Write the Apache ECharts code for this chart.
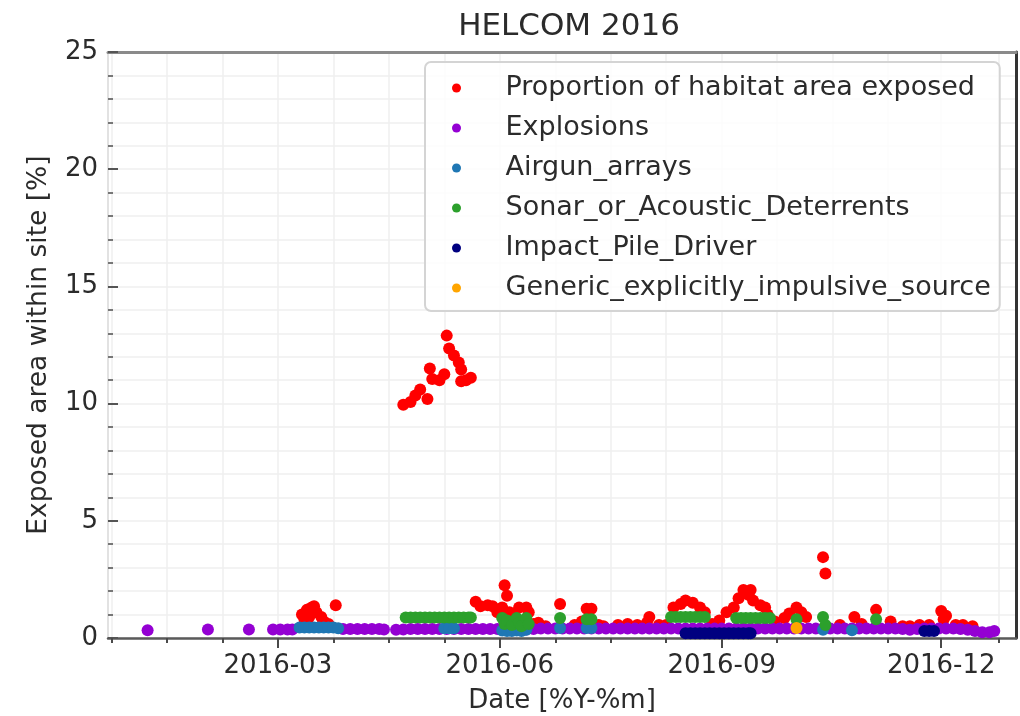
<!DOCTYPE html>
<html>
<head>
<meta charset="utf-8">
<title>HELCOM 2016</title>
<script src="https://cdn.jsdelivr.net/npm/echarts@6/dist/echarts.min.js"></script>
<style>
html, body { margin: 0; padding: 0; background: #fff; }
#main { width: 1020px; height: 716px; }
</style>
</head>
<body>
<div id="main"></div>
<script>
// tick labels / positions on the date axis
var majorTickLabels = ['2016-03', '2016-06', '2016-09', '2016-12'];
var minorTickDates = ['2015-12-23', '2016-01-15', '2016-02-07', '2016-03-24', '2016-04-16', '2016-05-09',
    '2016-06-24', '2016-07-17', '2016-08-09', '2016-09-24', '2016-10-17', '2016-11-09', '2016-12-25'];

var seriesNames = ['Proportion of habitat area exposed', 'Explosions', 'Airgun_arrays',
    'Sonar_or_Acoustic_Deterrents', 'Impact_Pile_Driver', 'Generic_explicitly_impulsive_source'];

// Proportion of habitat area exposed
var proportionData = [
    ['2016-03-11', 1.0], ['2016-03-12', 0.8], ['2016-03-13', 1.2], ['2016-03-14', 0.9], ['2016-03-15', 1.3],
    ['2016-03-16', 1.35], ['2016-03-17', 1.1], ['2016-03-19', 0.9], ['2016-03-20', 0.7], ['2016-03-22', 0.6],
    ['2016-03-25', 1.4],
    ['2016-04-22', 9.95], ['2016-04-25', 10.07], ['2016-04-27', 10.35], ['2016-04-29', 10.6], ['2016-05-02', 10.2],
    ['2016-05-03', 11.5], ['2016-05-04', 11.05], ['2016-05-07', 11.0], ['2016-05-09', 11.25], ['2016-05-10', 12.9],
    ['2016-05-11', 12.35], ['2016-05-13', 12.05], ['2016-05-15', 11.75], ['2016-05-16', 11.45], ['2016-05-16', 10.95],
    ['2016-05-18', 11.0], ['2016-05-20', 11.1],
    ['2016-05-22', 1.55], ['2016-05-24', 1.35], ['2016-05-27', 1.4], ['2016-05-29', 1.35], ['2016-05-31', 1.1],
    ['2016-06-02', 1.3], ['2016-06-03', 2.25], ['2016-06-04', 1.8], ['2016-06-05', 1.1], ['2016-06-07', 1.0],
    ['2016-06-09', 1.3], ['2016-06-12', 1.3], ['2016-06-13', 1.1], ['2016-06-15', 0.6], ['2016-06-17', 0.65],
    ['2016-06-20', 0.5], ['2016-06-26', 1.45], ['2016-07-02', 0.55], ['2016-07-05', 0.7], ['2016-07-07', 1.25],
    ['2016-07-09', 1.25], ['2016-07-12', 0.55], ['2016-07-14', 0.5], ['2016-07-20', 0.55], ['2016-07-24', 0.6],
    ['2016-07-28', 0.55], ['2016-08-02', 0.9], ['2016-08-01', 0.65], ['2016-08-06', 0.55], ['2016-08-09', 0.55],
    ['2016-08-12', 1.3], ['2016-08-15', 1.45], ['2016-08-17', 1.6], ['2016-08-20', 1.5], ['2016-08-23', 1.3],
    ['2016-08-25', 1.1], ['2016-08-28', 0.6], ['2016-08-31', 0.75], ['2016-09-03', 1.1], ['2016-09-06', 1.3],
    ['2016-09-08', 1.7], ['2016-09-10', 2.05], ['2016-09-12', 1.85], ['2016-09-13', 2.05], ['2016-09-14', 1.6],
    ['2016-09-17', 1.4], ['2016-09-19', 1.3], ['2016-09-20', 1.0], ['2016-09-23', 0.7], ['2016-09-27', 0.85],
    ['2016-09-29', 1.05], ['2016-10-02', 1.3], ['2016-10-04', 1.1], ['2016-10-06', 0.9], ['2016-10-13', 3.45],
    ['2016-10-14', 2.75], ['2016-10-20', 0.55], ['2016-10-26', 0.9], ['2016-10-29', 0.6], ['2016-11-04', 1.2],
    ['2016-11-10', 0.7], ['2016-11-15', 0.5], ['2016-11-18', 0.5], ['2016-11-22', 0.55], ['2016-11-26', 0.55],
    ['2016-12-01', 1.15], ['2016-12-02', 0.8], ['2016-12-03', 0.95], ['2016-12-07', 0.55], ['2016-12-10', 0.55],
    ['2016-12-14', 0.5]
];

// Explosions
var explosionData = [
    ['2016-01-07', 0.33], ['2016-02-01', 0.36], ['2016-02-18', 0.36], ['2016-02-28', 0.36], ['2016-03-02', 0.36],
    ['2016-03-05', 0.36], ['2016-03-07', 0.36],
    ['2016-03-28', 0.38], ['2016-03-31', 0.38], ['2016-04-03', 0.38], ['2016-04-06', 0.38], ['2016-04-09', 0.38],
    ['2016-04-12', 0.38], ['2016-04-14', 0.36],
    ['2016-04-19', 0.35], ['2016-04-22', 0.36], ['2016-04-25', 0.38], ['2016-04-28', 0.38], ['2016-05-01', 0.38],
    ['2016-05-04', 0.38], ['2016-05-07', 0.38], ['2016-05-10', 0.38], ['2016-05-13', 0.38], ['2016-05-16', 0.38],
    ['2016-05-19', 0.38], ['2016-05-22', 0.38], ['2016-05-25', 0.38], ['2016-05-28', 0.38], ['2016-05-31', 0.38],
    ['2016-06-03', 0.36], ['2016-06-06', 0.36], ['2016-06-09', 0.36], ['2016-06-12', 0.36], ['2016-06-15', 0.38],
    ['2016-06-18', 0.4], ['2016-06-21', 0.4], ['2016-06-24', 0.4], ['2016-06-27', 0.4], ['2016-06-30', 0.4],
    ['2016-07-03', 0.4], ['2016-07-06', 0.4], ['2016-07-09', 0.4], ['2016-07-12', 0.4], ['2016-07-15', 0.4],
    ['2016-07-18', 0.4], ['2016-07-21', 0.4], ['2016-07-24', 0.4], ['2016-07-27', 0.4], ['2016-07-30', 0.4],
    ['2016-08-02', 0.4], ['2016-08-05', 0.4], ['2016-08-08', 0.4], ['2016-08-11', 0.4], ['2016-08-14', 0.4],
    ['2016-08-17', 0.4], ['2016-08-20', 0.4], ['2016-08-23', 0.4], ['2016-08-26', 0.4], ['2016-08-29', 0.4],
    ['2016-09-01', 0.4], ['2016-09-04', 0.4], ['2016-09-07', 0.4], ['2016-09-10', 0.4], ['2016-09-13', 0.4],
    ['2016-09-16', 0.4], ['2016-09-19', 0.4], ['2016-09-22', 0.4], ['2016-09-25', 0.4], ['2016-09-28', 0.4],
    ['2016-10-01', 0.4], ['2016-10-04', 0.4], ['2016-10-07', 0.4], ['2016-10-10', 0.4], ['2016-10-13', 0.4],
    ['2016-10-16', 0.4], ['2016-10-19', 0.4], ['2016-10-22', 0.4], ['2016-10-25', 0.4], ['2016-10-28', 0.4],
    ['2016-10-31', 0.4], ['2016-11-03', 0.4], ['2016-11-06', 0.4], ['2016-11-09', 0.4], ['2016-11-12', 0.4],
    ['2016-11-15', 0.38], ['2016-11-18', 0.35], ['2016-11-21', 0.38], ['2016-11-24', 0.4], ['2016-11-27', 0.4],
    ['2016-11-30', 0.4], ['2016-12-03', 0.4], ['2016-12-06', 0.4], ['2016-12-09', 0.38], ['2016-12-12', 0.35],
    ['2016-12-15', 0.3], ['2016-12-18', 0.25], ['2016-12-21', 0.25], ['2016-12-23', 0.3]
];

// Airgun_arrays
var airgunData = [
    ['2016-03-10', 0.45], ['2016-03-12', 0.45], ['2016-03-14', 0.45], ['2016-03-16', 0.45], ['2016-03-18', 0.45],
    ['2016-03-20', 0.45], ['2016-03-22', 0.45], ['2016-03-24', 0.45], ['2016-03-26', 0.42],
    ['2016-05-09', 0.42], ['2016-05-11', 0.42], ['2016-05-13', 0.42],
    ['2016-06-02', 0.32], ['2016-06-04', 0.3], ['2016-06-06', 0.3], ['2016-06-08', 0.32], ['2016-06-10', 0.3],
    ['2016-06-12', 0.35],
    ['2016-06-26', 0.43], ['2016-07-07', 0.43], ['2016-07-09', 0.43],
    ['2016-10-13', 0.35], ['2016-10-25', 0.33]
];

// Sonar_or_Acoustic_Deterrents
var sonarData = [
    ['2016-04-23', 0.87], ['2016-04-25', 0.87], ['2016-04-27', 0.87], ['2016-04-29', 0.87], ['2016-05-01', 0.87],
    ['2016-05-03', 0.87], ['2016-05-05', 0.87], ['2016-05-07', 0.87], ['2016-05-09', 0.87], ['2016-05-11', 0.87],
    ['2016-05-13', 0.87], ['2016-05-15', 0.87], ['2016-05-17', 0.87], ['2016-05-19', 0.87], ['2016-05-20', 0.87],
    ['2016-06-02', 0.85], ['2016-06-03', 0.6], ['2016-06-04', 0.75], ['2016-06-06', 0.55], ['2016-06-08', 0.85],
    ['2016-06-09', 0.65], ['2016-06-10', 0.5], ['2016-06-12', 0.85], ['2016-06-13', 0.6],
    ['2016-06-26', 0.85], ['2016-07-07', 0.8], ['2016-07-09', 0.8],
    ['2016-08-11', 0.9], ['2016-08-13', 0.9], ['2016-08-15', 0.9], ['2016-08-17', 0.9], ['2016-08-19', 0.9],
    ['2016-08-21', 0.9], ['2016-08-23', 0.9], ['2016-08-25', 0.9],
    ['2016-09-07', 0.85], ['2016-09-09', 0.85], ['2016-09-11', 0.85], ['2016-09-13', 0.85], ['2016-09-15', 0.85],
    ['2016-09-17', 0.85], ['2016-09-19', 0.85], ['2016-09-21', 0.85],
    ['2016-10-02', 0.8], ['2016-10-13', 0.9], ['2016-10-14', 0.55], ['2016-11-04', 0.8]
];

// Impact_Pile_Driver
var pileDriverData = [
    ['2016-08-17', 0.2], ['2016-08-19', 0.2], ['2016-08-21', 0.2], ['2016-08-23', 0.2], ['2016-08-25', 0.2],
    ['2016-08-27', 0.2], ['2016-08-29', 0.2], ['2016-08-31', 0.2], ['2016-09-02', 0.2], ['2016-09-04', 0.2],
    ['2016-09-06', 0.2], ['2016-09-08', 0.2], ['2016-09-10', 0.2], ['2016-09-12', 0.2], ['2016-09-13', 0.2],
    ['2016-11-24', 0.3], ['2016-11-26', 0.3], ['2016-11-28', 0.3]
];

// Generic_explicitly_impulsive_source
var genericData = [
    ['2016-10-02', 0.43]
];

var FONT = 'DejaVu Sans';
var TEXT = '#2b2b2b';

function toTime(s) {
    var p = s.split('-');
    return new Date(+p[0], +p[1] - 1, p.length > 2 ? +p[2] : 1).getTime();
}
function fmtMonth(v) {
    var d = new Date(v);
    var m = d.getMonth() + 1;
    return d.getFullYear() + '-' + (m < 10 ? '0' + m : m);
}

var majorTicks = majorTickLabels.map(toTime);
var minorTicks = minorTickDates.map(toTime);
var xMin = new Date(2015, 11, 21, 14).getTime();
var xMax = new Date(2017, 0, 1).getTime();

function scatter(name, color, data) {
    return {
        name: name,
        type: 'scatter',
        xAxisIndex: 0,
        yAxisIndex: 0,
        symbol: 'circle',
        symbolSize: 12,
        itemStyle: { color: color, opacity: 1 },
        emphasis: { disabled: true },
        data: data.map(function (d) { return [toTime(d[0]), d[1]]; })
    };
}

var gridLine = { show: true, lineStyle: { color: '#efefef', width: 1.5 } };

var option = {
    animation: false,
    backgroundColor: '#fff',
    title: {
        text: 'HELCOM 2016',
        left: 564,
        top: 6,
        textAlign: 'center',
        textStyle: { fontFamily: FONT, fontSize: 31, fontWeight: 'normal', color: TEXT }
    },
    grid: { left: 108, right: 4, top: 52, bottom: 78, containLabel: false, outerBoundsMode: 'none' },
    legend: {
        orient: 'vertical',
        left: 425,
        top: 62,
        padding: [11, 9, 8, 27],
        itemGap: 10,
        itemWidth: 20,
        itemHeight: 9,
        icon: 'circle',
        backgroundColor: 'rgba(255,255,255,0.8)',
        borderColor: '#d4d4d4',
        borderWidth: 2,
        borderRadius: 6,
        data: seriesNames,
        textStyle: { fontFamily: FONT, fontSize: 27, lineHeight: 30, color: TEXT, padding: [0, 0, 0, 34] }
    },
    xAxis: [{
        type: 'value',
        min: xMin,
        max: xMax,
        position: 'bottom',
        name: 'Date [%Y-%m]',
        nameLocation: 'middle',
        nameGap: 50,
        nameTextStyle: { fontFamily: FONT, fontSize: 26, color: TEXT },
        axisLine: { show: true, onZero: false, lineStyle: { color: '#5a5a5a', width: 2.5 } },
        axisTick: { show: true, customValues: majorTicks, length: 10, lineStyle: { color: '#4a4a4a', width: 2 } },
        axisLabel: { show: true, customValues: majorTicks, formatter: fmtMonth, fontFamily: FONT, fontSize: 26, color: TEXT, margin: 15 },
        splitLine: gridLine
    }, {
        type: 'value',
        min: xMin,
        max: xMax,
        position: 'bottom',
        axisLine: { show: false, onZero: false },
        axisTick: { show: true, customValues: minorTicks, length: 5, lineStyle: { color: '#4a4a4a', width: 2 } },
        axisLabel: { show: false },
        splitLine: gridLine
    }, {
        type: 'value',
        min: xMin,
        max: xMax,
        position: 'top',
        axisLine: { show: true, onZero: false, lineStyle: { color: '#8a8a8a', width: 3 } },
        axisTick: { show: false },
        axisLabel: { show: false },
        splitLine: { show: false }
    }],
    yAxis: [{
        type: 'value',
        min: 0,
        max: 25,
        interval: 5,
        position: 'left',
        name: 'Exposed area within site [%]',
        nameLocation: 'middle',
        nameGap: 55,
        nameTextStyle: { fontFamily: FONT, fontSize: 26.5, color: TEXT },
        axisLine: { show: true, onZero: false, lineStyle: { color: '#e2e2e2', width: 2 } },
        axisTick: { show: true, inside: true, length: 10, lineStyle: { color: '#555', width: 2 } },
        minorTick: { show: true, splitNumber: 5, length: 5, lineStyle: { color: '#777', width: 2 } },
        axisLabel: { fontFamily: FONT, fontSize: 26, color: TEXT, margin: 10 },
        splitLine: gridLine,
        minorSplitLine: { show: true, lineStyle: { color: '#efefef', width: 1.5 } }
    }, {
        type: 'value',
        min: 0,
        max: 25,
        position: 'right',
        axisLine: { show: true, onZero: false, lineStyle: { color: '#333', width: 3 } },
        axisTick: { show: false },
        axisLabel: { show: false },
        splitLine: { show: false }
    }],
    series: [
        scatter(seriesNames[0], '#ff0000', proportionData),
        scatter(seriesNames[1], '#9400d3', explosionData),
        scatter(seriesNames[2], '#1f77b4', airgunData),
        scatter(seriesNames[3], '#2ca02c', sonarData),
        scatter(seriesNames[4], '#000080', pileDriverData),
        scatter(seriesNames[5], '#ffa500', genericData)
    ]
};

var chart = echarts.init(document.getElementById('main'));
chart.setOption(option);
</script>
</body>
</html>
